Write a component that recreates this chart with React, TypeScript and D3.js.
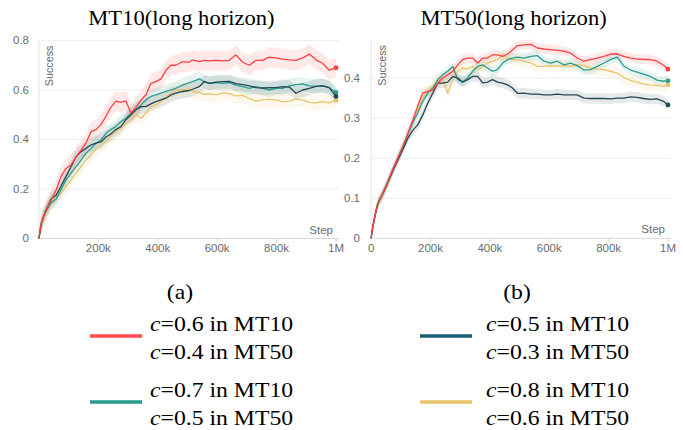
import React from 'react';
import * as d3 from 'd3';

// steps in thousands
const mt10Steps = [0, 8, 16, 24, 41, 58, 74, 91, 108, 125, 142, 158, 176, 192, 209, 226, 242, 259, 276, 293, 310, 327, 344, 360, 377, 394, 411, 428, 444, 461, 484, 506, 517, 540, 557, 574, 596, 619, 641, 663, 686, 708, 731, 753, 775, 798, 820, 843, 865, 888, 910, 933, 955, 977, 1000];
const mt10Red = [0, .06, .09, .115, .155, .196, .25, .283, .297, .33, .357, .385, .432, .44, .46, .495, .53, .555, .55, .556, .506, .53, .56, .58, .627, .634, .645, .68, .70, .70, .715, .712, .722, .715, .72, .718, .72, .718, .72, .742, .712, .70, .72, .72, .733, .73, .725, .722, .72, .73, .745, .722, .708, .68, .69];
const mt10Green = [0, .06, .09, .11, .145, .16, .196, .236, .263, .29, .317, .344, .364, .385, .398, .425, .44, .452, .472, .486, .506, .52, .54, .56, .574, .58, .587, .594, .60, .607, .62, .63, .634, .645, .634, .627, .63, .627, .63, .62, .614, .607, .614, .607, .60, .607, .607, .617, .622, .625, .617, .615, .618, .61, .59];
const mt10Dark = [0, .06, .09, .115, .16, .175, .21, .25, .29, .33, .351, .364, .378, .385, .39, .41, .422, .44, .452, .48, .50, .52, .533, .533, .544, .553, .56, .567, .58, .587, .594, .598, .603, .614, .634, .627, .632, .634, .635, .626, .622, .617, .61, .608, .609, .61, .614, .612, .587, .60, .607, .615, .617, .61, .574];
const mt10Yellow = [0, .055, .085, .108, .142, .162, .182, .21, .236, .263, .29, .317, .337, .364, .378, .39, .414, .432, .445, .466, .482, .50, .486, .506, .533, .54, .553, .574, .587, .598, .60, .603, .594, .59, .582, .585, .58, .588, .585, .576, .578, .565, .555, .56, .562, .56, .552, .555, .563, .56, .55, .548, .553, .548, .558];

const mt50Steps = [0, 6, 14, 23, 40, 57, 73, 90, 107, 124, 141, 157, 174, 191, 208, 225, 241, 258, 275, 292, 308, 325, 342, 359, 376, 392, 409, 426, 443, 460, 476, 493, 515, 538, 560, 583, 605, 627, 650, 672, 694, 717, 739, 762, 784, 806, 829, 851, 874, 896, 918, 941, 963, 985, 1000];
const mt50Red = [0, .03, .06, .0875, .1125, .142, .171, .20, .229, .2625, .296, .33, .3625, .367, .37, .3875, .40, .408, .417, .433, .446, .45, .45, .4375, .45, .45, .458, .458, .454, .46, .47, .481, .483, .484, .475, .4725, .471, .469, .467, .4625, .45, .442, .446, .45, .454, .46, .46, .454, .45, .4475, .447, .446, .442, .432, .4225];
const mt50Green = [0, .03, .06, .0875, .1125, .142, .171, .20, .229, .26, .29, .3125, .342, .3625, .375, .396, .408, .417, .429, .396, .39, .40, .417, .429, .433, .425, .417, .421, .4375, .446, .45, .452, .45, .454, .456, .442, .4375, .442, .433, .4375, .431, .42, .421, .429, .4375, .446, .452, .43, .42, .415, .41, .404, .395, .392, .393];
const mt50Dark = [0, .03, .06, .0875, .1125, .14, .168, .195, .222, .25, .27, .283, .308, .3375, .3625, .3875, .3875, .39, .404, .40, .39, .396, .404, .404, .388, .39, .396, .39, .3875, .383, .375, .362, .3625, .36, .36, .358, .358, .36, .358, .358, .358, .35, .349, .349, .349, .348, .35, .35, .353, .352, .349, .347, .348, .342, .333];
const mt50Yellow = [0, .03, .058, .085, .11, .14, .17, .198, .226, .258, .29, .32, .35, .367, .379, .396, .40, .3625, .395, .417, .425, .4225, .429, .421, .429, .4375, .442, .446, .458, .45, .446, .446, .442, .4375, .429, .429, .431, .429, .431, .429, .433, .431, .425, .4225, .421, .417, .4125, .402, .394, .39, .385, .383, .382, .379, .383];

// half width of shaded band per series (red, green, dark, yellow)
const mt10Spread = [0.04, 0.028, 0.028, 0.03];
const mt50Spread = [0.012, 0.012, 0.013, 0.015];

const xTickSteps = [0, 200, 400, 600, 800, 1000];
const xTickLabels = ['0', '200k', '400k', '600k', '800k', '1M'];
const mt10YTicks = [0, 0.2, 0.4, 0.6, 0.8];
const mt50YTicks = [0, 0.1, 0.2, 0.3, 0.4];

// series order: red, green, dark, yellow
const colors = ['#ff4040', '#2a9d8f', '#264653', '#e9c46a'];
const legendColors = ['#ff4d4d', '#2a9d8f', '#1b5e7a', '#e9c46a'];
const legendLabels = [
  ['0.6 in MT10', '0.4 in MT50'],
  ['0.7 in MT10', '0.5 in MT50'],
  ['0.5 in MT10', '0.3 in MT50'],
  ['0.8 in MT10', '0.6 in MT50'],
];
const legendOrder = [0, 2, 1, 3];

const SX = 1.13;
const serif = '"Liberation Serif", "Times New Roman", serif';
const sans = '"Liberation Sans", Arial, sans-serif';

function SText({ x, y, size, anchor = 'start', family = serif, fill = '#000', sx = SX, children }: any) {
  return (
    <text transform={`translate(${x},${y}) scale(${sx},1)`} fontSize={size} fontFamily={family} textAnchor={anchor} fill={fill}>
      {children}
    </text>
  );
}

function Panel({ title, steps, series, spreads, yMax, yTicks, left, right, top, bottom, labelEdge, showX0 }: any) {
  const x = d3.scaleLinear().domain([0, 1000]).range([left, right]);
  const y = d3.scaleLinear().domain([0, yMax]).range([bottom, top]);
  const fmt = (v: number) => (v === 0 ? '0' : d3.format('.1f')(v));

  return (
    <g>
      <SText x={(left + right) / 2 - 6} y={25} size={20} anchor="middle">{title}</SText>
      {yTicks.map((t: number) => (
        <g key={t}>
          <line x1={left} x2={right + 3} y1={y(t)} y2={y(t)} stroke={t === 0 ? '#d8d8d8' : '#eeeeee'} strokeWidth={1} />
          <SText x={labelEdge} y={y(t) + 3.5} size={10} anchor="end" family={sans} fill="#6b6b6b" sx={1.15}>{fmt(t)}</SText>
        </g>
      ))}
      <line x1={left} x2={left} y1={top} y2={bottom} stroke="#e2e2e2" />
      {xTickSteps.map((s, i) => (
        <g key={s}>
          {i > 0 && <line x1={x(s)} x2={x(s)} y1={bottom} y2={bottom + 4} stroke="#d8d8d8" />}
          {(i > 0 || showX0) && (
            <SText x={x(s)} y={bottom + 13.5} size={10} anchor="middle" family={sans} fill="#6b6b6b" sx={1.15}>{xTickLabels[i]}</SText>
          )}
        </g>
      ))}
      <text transform={`translate(${left + 14.5},${top + 5}) rotate(-90)`} fontSize={10.8} fontFamily={sans} fill="#6b6b6b" textAnchor="end">Success</text>
      <SText x={right - 3} y={bottom - 5} size={10.5} anchor="end" family={sans} fill="#6b6b6b" sx={1.1}>Step</SText>
      {series.map((vals: number[], k: number) => {
        const sp = spreads[k];
        const area = d3.area<number>()
          .x((_, i) => x(steps[i]))
          .y0(v => y(Math.max(0, v - sp)))
          .y1(v => y(v + sp));
        return <path key={'a' + k} d={area(vals) || ''} fill={colors[k]} fillOpacity={0.12} stroke="none" />;
      })}
      {[3, 1, 2, 0].map((k) => {
        const vals = series[k];
        const line = d3.line<number>().x((_, i) => x(steps[i])).y(v => y(v));
        const last = vals.length - 1;
        return (
          <g key={'l' + k}>
            <path d={line(vals) || ''} fill="none" stroke={colors[k]} strokeWidth={1.3} strokeLinejoin="round" />
            <circle cx={x(steps[last])} cy={y(vals[last])} r={2.4} fill={colors[k]} />
          </g>
        );
      })}
    </g>
  );
}

export default function App() {
  const legendPos = [
    { lx: 90, tx: 150, y: 331 },
    { lx: 420, tx: 486, y: 331 },
    { lx: 90, tx: 150, y: 397 },
    { lx: 420, tx: 486, y: 397 },
  ];
  return (
    <svg width={683} height={430} style={{ position: 'absolute', left: 0, top: 0, background: '#fff' }}>
      <Panel
        title="MT10(long horizon)"
        steps={mt10Steps}
        series={[mt10Red, mt10Green, mt10Dark, mt10Yellow]}
        spreads={mt10Spread}
        yMax={0.8}
        yTicks={mt10YTicks}
        left={38.9}
        right={336}
        top={40.5}
        bottom={238.5}
        labelEdge={29}
        showX0={false}
      />
      <Panel
        title="MT50(long horizon)"
        steps={mt50Steps}
        series={[mt50Red, mt50Green, mt50Dark, mt50Yellow]}
        spreads={mt50Spread}
        yMax={0.495}
        yTicks={mt50YTicks}
        left={371.1}
        right={668}
        top={40}
        bottom={238.3}
        labelEdge={360}
        showX0={true}
      />
      <SText x={180} y={299} size={21} anchor="middle">(a)</SText>
      <SText x={517} y={299} size={21} anchor="middle">(b)</SText>
      {legendOrder.map((k, i) => {
        const p = legendPos[i];
        return (
          <g key={k}>
            <line x1={p.lx} x2={p.lx + 52} y1={p.y + 5} y2={p.y + 5} stroke={legendColors[k]} strokeWidth={3.5} />
            {legendLabels[k].map((t, j) => (
              <SText key={j} x={p.tx} y={p.y + j * 28} size={21}>
                <tspan fontStyle="italic">c</tspan>={t}
              </SText>
            ))}
          </g>
        );
      })}
    </svg>
  );
}
